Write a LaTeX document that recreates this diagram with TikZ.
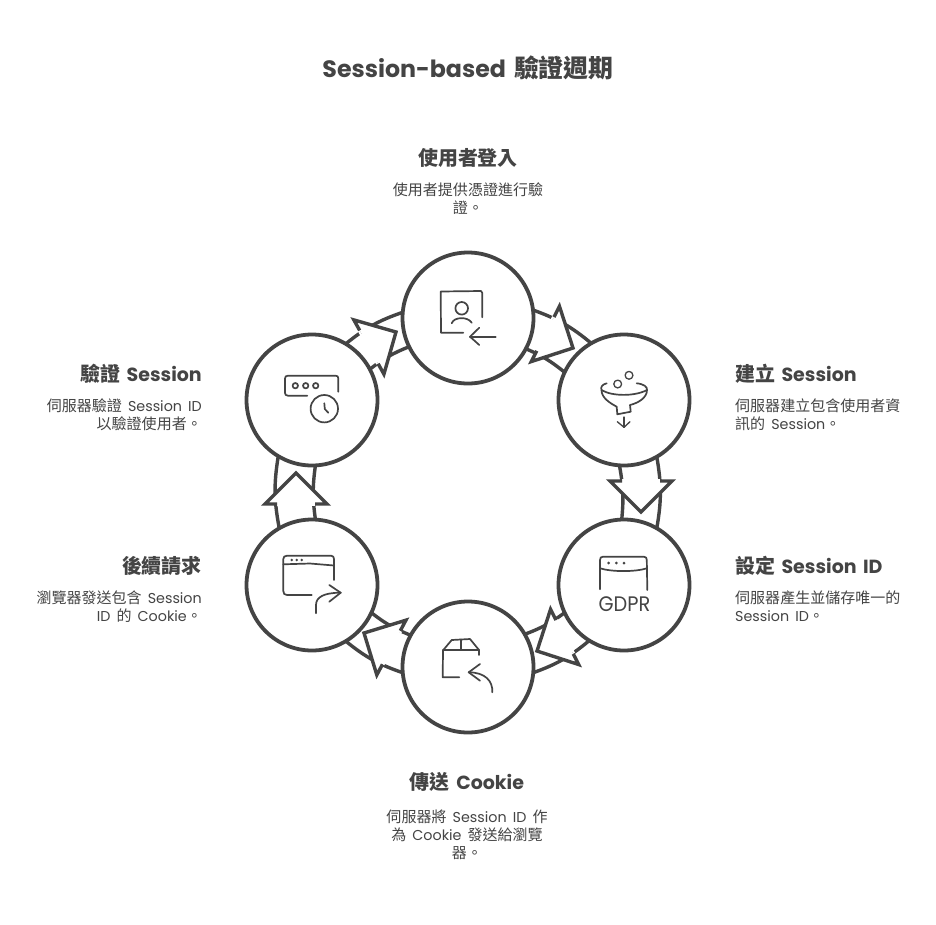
\documentclass[tikz,border=0pt]{standalone}
\usepackage{fontspec}
\usetikzlibrary{backgrounds}
\setmainfont[WordSpace=1.6]{Poppins}
\newfontfamily\cjk[Scale=1.05]{Noto Sans CJK TC}
\newcommand{\zh}[1]{{\cjk #1}}
\definecolor{ink}{HTML}{444444}
\tikzset{
  x=1pt,y=-1pt,
  stage/.style={circle,draw=ink,line width=3.8pt,fill=white,minimum size=131pt,inner sep=0pt,outer sep=0pt},
  shaft/.style={draw=ink,line width=3.4pt},
  titletext/.style={text=ink,font=\fontsize{23.7}{28}\selectfont\bfseries,inner sep=0pt},
  headtext/.style={text=ink,font=\fontsize{19}{22}\selectfont\bfseries,inner sep=0pt},
  desctext/.style={text=ink,font=\fontsize{14.3}{18}\selectfont,inner sep=0pt},
  icon/.style={draw=ink,line width=1.7pt,line cap=round,line join=round},
  iconthin/.style={draw=ink,line width=1.3pt,line cap=round,line join=round},
  dotfill/.style={fill=ink,draw=none},
}
\newcommand{\blockhead}[2]{%
  \begin{scope}[shift={(#1)},rotate=#2]
    \fill[white] (0,0) -- (-31,31) -- (-31,-31) -- cycle;
    \fill[white] (-31,-19) rectangle (-33,19);
    \draw[shaft,line join=miter] (-31,19) -- (-31,31) -- (0,0) -- (-31,-31) -- (-31,-19);
  \end{scope}}
\begin{document}
\begin{tikzpicture}
\useasboundingbox (0,0) rectangle (936,924);

\node[stage] (top) at (468,318) {};
\node[stage] (ru) at (624,400) {};
\node[stage] (rl) at (624,585) {};
\node[stage] (bot) at (468,667) {};
\node[stage] (ll) at (312,585) {};
\node[stage] (lu) at (312,400) {};

\coordinate (h1) at (573,348);
\coordinate (h2) at (641,512);
\coordinate (h3) at (537,651);
\coordinate (h4) at (364,633);
\coordinate (h5) at (296,473);
\coordinate (h6) at (396,332);

\begin{pgfonlayer}{background}
  \fill[white] (0,0) rectangle (936,924);
  \draw[shaft] (top.7) to[bend left=10] (ru.120);
  \draw[shaft] (top.-28) to[bend left=8] (ru.155);
  \blockhead{h1}{-27}
  \draw[shaft] (ru.-60) to[bend left=10] (rl.60);
  \draw[shaft] (ru.-94) to[bend left=8] (rl.92);
  \blockhead{h2}{-90}
  \draw[shaft] (rl.-122) to[bend left=10] (bot.-5);
  \draw[shaft] (rl.-155) to[bend left=8] (bot.30);
  \blockhead{h3}{-153}
  \draw[shaft] (bot.185) to[bend left=10] (ll.-59);
  \draw[shaft] (bot.151) to[bend left=8] (ll.-25);
  \blockhead{h4}{152}
  \draw[shaft] (ll.120) to[bend left=10] (lu.-121);
  \draw[shaft] (ll.87) to[bend left=8] (lu.-87);
  \blockhead{h5}{90}
  \draw[shaft] (lu.59) to[bend left=10] (top.175);
  \draw[shaft] (lu.28) to[bend left=8] (top.206);
  \blockhead{h6}{29}
\end{pgfonlayer}

% icon: user login
\draw[icon] (463.3,332.7) -- (441,332.7) -- (440.7,291.5) -- (481,291) -- (482.3,293) -- (482.3,317.3);
\draw[icon] (461.7,308.3) circle (6.3);
\draw[icon] (451.7,323.3) .. controls (454,316.5) and (468,316.5) .. (471.7,322.7);
\draw[icon] (495.7,336.7) -- (470,336.7);
\draw[icon] (479.3,327.7) -- (470,336.7) -- (479.3,345);

% icon: funnel
\draw[iconthin] (617.7,384) circle (3.9);
\draw[iconthin] (629,375.3) circle (3.9);
\draw[icon] (606.7,383.3) .. controls (602,384.5) and (600.5,387) .. (601.5,390) .. controls (612,396.5) and (635,396.5) .. (647,390) .. controls (647.5,387) and (644,384) .. (636.7,383.3);
\draw[icon] (601.5,390) .. controls (601.5,398) and (610,403) .. (616.7,406.7) -- (617.3,414.3) -- (630.7,411.7) -- (630,405) .. controls (638,403) and (647,398) .. (647,390);
\draw[iconthin] (624,417) -- (624,427.3);
\draw[iconthin] (617.3,421.7) -- (624,427.3) -- (630,421.7);

% icon: GDPR window
\draw[icon] (600,589.3) -- (600,560) .. controls (600,557.5) and (601,557) .. (603,556.7) -- (644,556.7) .. controls (646,557) and (646.8,558) .. (646.8,560) -- (647.3,590);
\draw[icon] (600,568.3) .. controls (612,572) and (635,572) .. (647,568.3);
\fill[dotfill] (608.7,563) circle (1.5) (616.3,563) circle (1.5) (624,563) circle (1.5);
\node[text=ink,inner sep=0pt,font=\fontsize{21}{22}\selectfont] (gdpr) at (624.5,604) {\scalebox{0.92}[1]{GDPR}};

% icon: box with return arrow
\draw[icon] (443.3,650) -- (451.7,640) -- (470,639) -- (479,650) -- (479,655);
\draw[icon] (443.3,650) -- (479,650);
\draw[icon] (461,639.5) -- (461,650);
\draw[icon] (443,650) -- (442.7,677.3) -- (459.3,677.3);
\draw[icon] (492.3,692.3) .. controls (493,681) and (485,672.3) .. (468.7,672.3);
\draw[icon] (480,664) -- (468.7,672.3) -- (480,680.7);

% icon: browser with forward arrow
\draw[icon] (311.7,595) -- (287,595) .. controls (284.5,595) and (283.3,593.5) .. (283.3,591) -- (283.3,559) .. controls (283.3,557) and (284.5,555.7) .. (287,555.7) -- (331,555.7) .. controls (333,555.7) and (334,557) .. (334,559) -- (334,580);
\draw[icon] (283.3,564.3) -- (310,563.5) -- (334,565.5);
\fill[dotfill] (291.7,560) circle (1.4) (296.7,560) circle (1.4) (301.7,560) circle (1.4);
\draw[icon] (316,613.3) -- (316,605) .. controls (316,597) and (324,592.7) .. (340.7,592.7);
\draw[icon] (329.3,585) -- (340.7,592.7) -- (329.3,601.7);

% icon: session clock
\draw[icon] (307.3,395.7) -- (288,395.7) .. controls (286,395.7) and (285,394.5) .. (285,393) -- (285,378.5) .. controls (285,376.5) and (286,375.7) .. (288,375.7) -- (335.5,375.7) .. controls (337.5,375.7) and (338.3,376.5) .. (338.3,378.5) -- (338.3,391.7);
\draw[icon] (295.3,385.7) circle (2.7) (305.7,385.7) circle (2.7) (315.7,385.7) circle (2.7);
\draw[icon] (324.3,408.7) circle (13.7);
\draw[icon] (324.3,403.3) -- (324.8,409) -- (328.3,412.7);

% texts
\node[titletext] (title) at (468,68) {Session-based \zh{驗證週期}};

\node[headtext] (t1) at (468,158) {\zh{使用者登入}};
\node[desctext] (d1a) at (468,190) {\zh{使用者提供憑證進行驗}};
\node[desctext] (d1b) at (468,208) {\zh{證。}};

\node[headtext,anchor=west] (t2) at (735,374) {\zh{建立} Session};
\node[desctext,anchor=west] (d2a) at (735,406) {\zh{伺服器建立包含使用者資}};
\node[desctext,anchor=west] (d2b) at (735,424) {\zh{訊的} Session\zh{。}};

\node[headtext,anchor=west] (t3) at (735,566) {\zh{設定} Session ID};
\node[desctext,anchor=west] (d3a) at (735,598) {\zh{伺服器產生並儲存唯一的}};
\node[desctext,anchor=west] (d3b) at (735,616) {Session ID\zh{。}};

\node[headtext] (t4) at (467,782) {\zh{傳送} Cookie};
\node[desctext] (d4a) at (467,817) {\zh{伺服器將} Session ID \zh{作}};
\node[desctext] (d4b) at (467,835) {\zh{為} Cookie \zh{發送給瀏覽}};
\node[desctext] (d4c) at (467,853) {\zh{器。}};

\node[headtext,anchor=east] (t5) at (202,566) {\zh{後續請求}};
\node[desctext,anchor=east] (d5a) at (202,598) {\zh{瀏覽器發送包含} Session};
\node[desctext,anchor=east] (d5b) at (202,616) {ID \zh{的} Cookie\zh{。}};

\node[headtext,anchor=east] (t6) at (202,374) {\zh{驗證} Session};
\node[desctext,anchor=east] (d6a) at (202,406) {\zh{伺服器驗證} Session ID};
\node[desctext,anchor=east] (d6b) at (202,424) {\zh{以驗證使用者。}};
\end{tikzpicture}
\end{document}
